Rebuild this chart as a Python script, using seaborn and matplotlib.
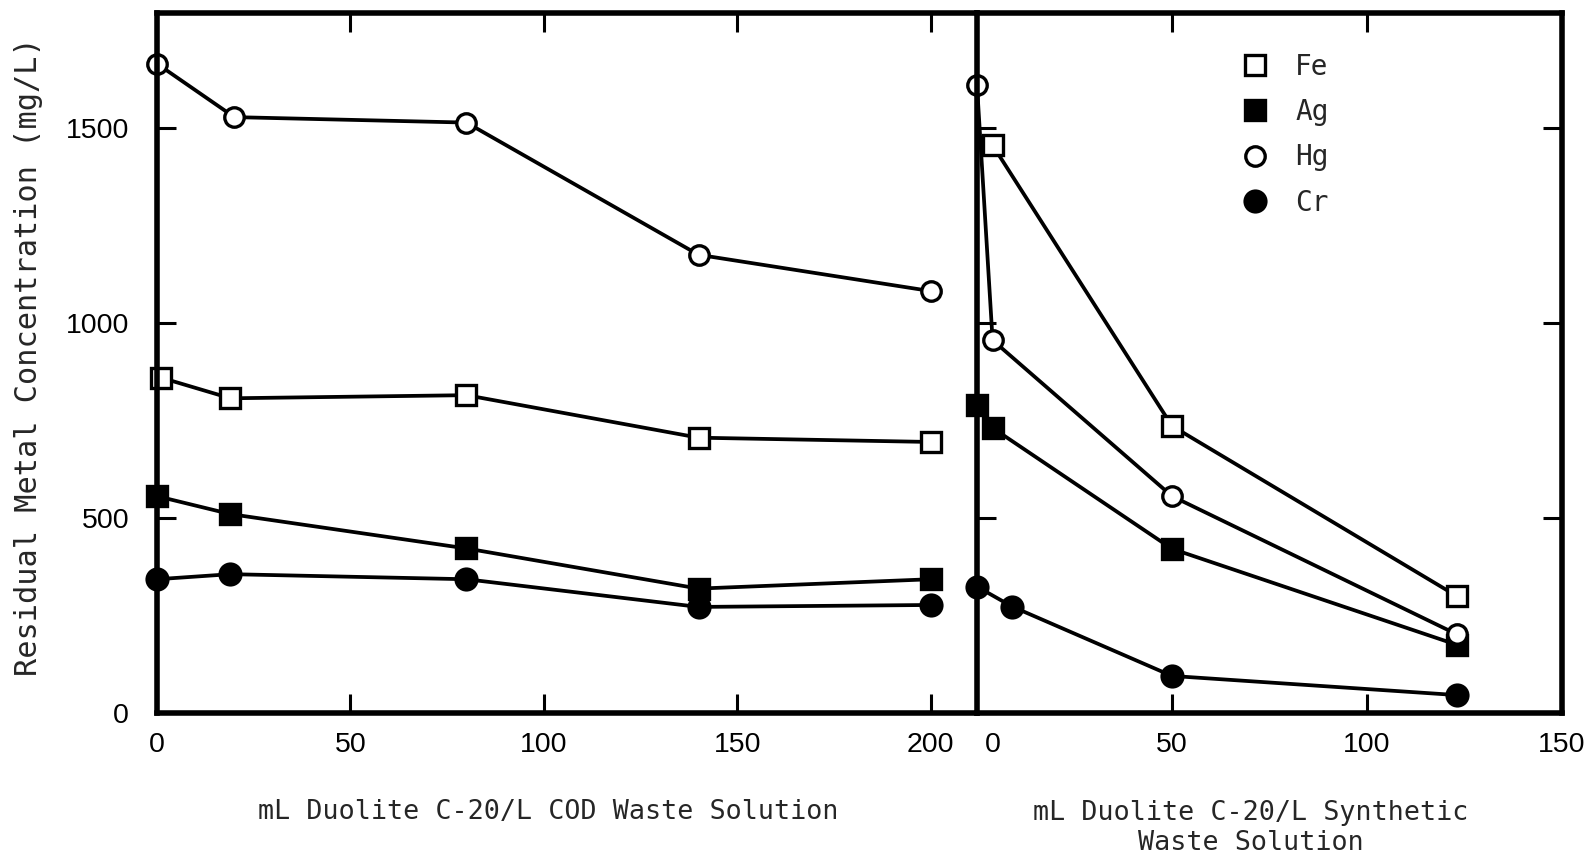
import numpy as np
import pandas as pd
import matplotlib
matplotlib.use("Agg")
import matplotlib.pyplot as plt
import matplotlib.transforms as mtransforms
from matplotlib.lines import Line2D
import seaborn as sns

# ---------------- data ----------------
metals = ["Fe", "Ag", "Hg", "Cr"]

cod_x_fe = [1, 19, 80, 140, 200]
cod_fe = [860, 807, 815, 706, 695]
cod_x_ag = [0, 19, 80, 140, 200]
cod_ag = [556, 510, 422, 319, 343]
cod_x_hg = [0, 20, 80, 140, 200]
cod_hg = [1665, 1528, 1514, 1175, 1082]
cod_x_cr = [0, 19, 80, 140, 200]
cod_cr = [343, 356, 343, 272, 277]

syn_x_fe = [4, 50, 123]
syn_fe = [1456, 736, 300]
syn_x_ag = [0, 4, 50, 123]
syn_ag = [790, 731, 421, 175]
syn_x_hg = [0, 4, 50, 123]
syn_hg = [1610, 956, 556, 202]
syn_x_cr = [0, 9, 50, 123]
syn_cr = [324, 273, 95, 46]

cod_ticks = [0, 50, 100, 150, 200]
syn_ticks = [0, 50, 100, 150]
y_ticks = [0, 500, 1000, 1500]

xlabel_cod = "mL Duolite C-20/L COD Waste Solution"
xlabel_syn = "mL Duolite C-20/L Synthetic\nWaste Solution"
ylabel = "Residual Metal Concentration (mg/L)"

def frame(xs, ys, metal):
    return pd.DataFrame({"x": xs, "y": ys, "metal": metal})

cod_df = pd.concat([frame(cod_x_fe, cod_fe, "Fe"), frame(cod_x_ag, cod_ag, "Ag"),
                    frame(cod_x_hg, cod_hg, "Hg"), frame(cod_x_cr, cod_cr, "Cr")])
syn_df = pd.concat([frame(syn_x_fe, syn_fe, "Fe"), frame(syn_x_ag, syn_ag, "Ag"),
                    frame(syn_x_hg, syn_hg, "Hg"), frame(syn_x_cr, syn_cr, "Cr")])

# ---------------- style ----------------
sns.set_style("white")
plt.rcParams["font.family"] = ["Liberation Sans", "DejaVu Sans"]

marker_style = {
    "Fe": dict(marker="s", markerfacecolor="white", markersize=14),
    "Ag": dict(marker="s", markerfacecolor="black", markersize=15),
    "Hg": dict(marker="o", markerfacecolor="white", markersize=14),
    "Cr": dict(marker="o", markerfacecolor="black", markersize=15),
}

fig = plt.figure(figsize=(15.87, 8.59), dpi=100)
W, H = 1587, 859
ax1 = fig.add_axes([157 / W, 1 - 713 / H, (977 - 157) / W, 700 / H])
ax2 = fig.add_axes([977 / W, 1 - 713 / H, (1562 - 977) / W, 700 / H])

def draw(ax, df):
    for m in metals:
        sub = df[df["metal"] == m]
        sns.lineplot(data=sub, x="x", y="y", ax=ax, color="black", linewidth=2.7,
                     markeredgecolor="black", markeredgewidth=2.4, sort=False,
                     estimator=None, legend=False, clip_on=False,
                     **marker_style[m])

draw(ax1, cod_df)
draw(ax2, syn_df)

ymax = 1795
for ax in (ax1, ax2):
    ax.set_ylim(0, ymax)
    ax.set_xlabel("")
    ax.set_ylabel("")
    for s in ax.spines.values():
        s.set_linewidth(4)
        s.set_color("black")
    ax.tick_params(direction="in", length=14, width=2.2, colors="black",
                   labelsize=20.5, pad=14)

ax1.set_xlim(0, 212)
ax1.set_xticks(cod_ticks)
ax1.set_yticks(y_ticks)
ax1.tick_params(axis="x", top=True, bottom=True)
ax1.tick_params(axis="y", left=True, right=False, pad=20)
ax1.spines["right"].set_visible(False)

ax2.set_xlim(0, 150)
ax2.set_xticks(syn_ticks)
ax2.set_yticks(y_ticks)
ax2.tick_params(axis="x", top=True, bottom=True)
ax2.tick_params(axis="y", left=True, right=True, labelleft=False)

# shift the "0" label of the right panel off the divider line
fig.canvas.draw()
t0 = ax2.xaxis.get_major_ticks()[0].label1
t0.set_transform(t0.get_transform() + mtransforms.ScaledTranslation(16 / 100, 0, fig.dpi_scale_trans))

mono = ["DejaVu Sans Mono"]
fig.text(29 / W, 1 - 357 / H, ylabel, rotation=90, ha="center", va="center",
         fontsize=21.8, family=mono)
fig.text(548 / W, 1 - 812 / H, xlabel_cod, ha="center", va="center",
         fontsize=19.3, family=mono)
fig.text(1251 / W, 1 - 828 / H, xlabel_syn, ha="center", va="center",
         fontsize=19.3, family=mono, linespacing=1.15)

handles = [Line2D([], [], linestyle="none", color="black", markeredgecolor="black",
                  markeredgewidth=2.4, **marker_style[m]) for m in metals]
ax2.legend(handles, metals, loc="upper left", bbox_to_anchor=(1241 / W, 1 - 53 / H),
           bbox_transform=fig.transFigure, frameon=False,
           prop={"family": mono[0], "size": 20}, handlelength=1.0,
           handletextpad=0.95, labelspacing=0.62, borderpad=0, borderaxespad=0)

fig.savefig("out.png", dpi=100, facecolor="white")
